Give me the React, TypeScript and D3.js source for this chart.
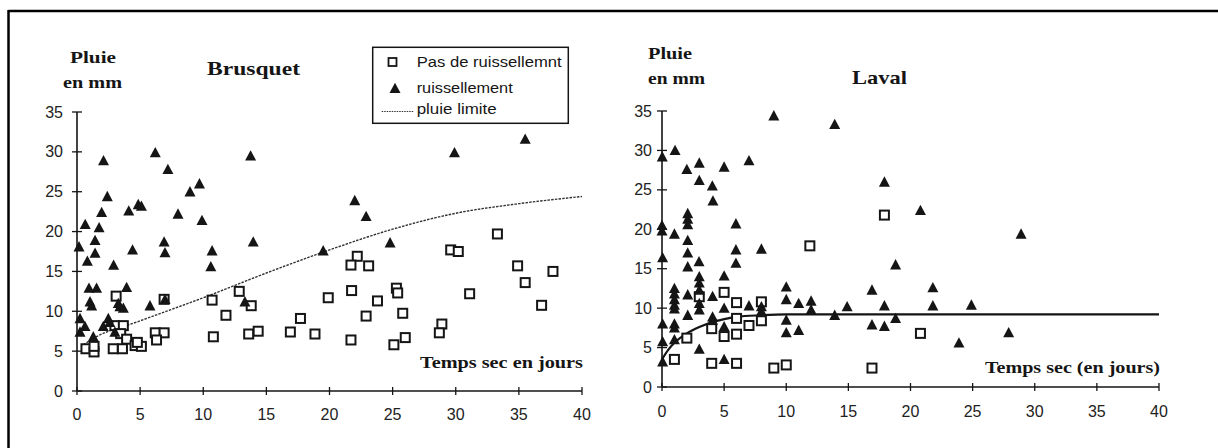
import React from "react";
import * as d3 from "d3";

// ---------- DATA ----------
const xTicks = [0, 5, 10, 15, 20, 25, 30, 35, 40];
const yTicks = [0, 5, 10, 15, 20, 25, 30, 35];

const legendLabels = ["Pas de ruissellemnt", "ruissellement", "pluie limite"];

// Brusquet
const bruRunoff: [number, number][] = [
  [2.1, 28.9], [2.4, 24.4], [1.95, 22.4], [0.65, 20.9], [1.75, 20.5], [4.1, 22.6], [4.85, 23.4], [5.1, 23.2],
  [6.2, 29.9], [7.2, 27.8], [8.95, 25.0], [9.7, 26.0], [8.0, 22.2], [9.9, 21.4], [13.75, 29.5], [22.0, 23.9],
  [22.9, 21.9], [29.9, 29.9], [35.5, 31.6], [19.5, 17.6], [24.8, 18.6],
  [0.16, 18.1], [1.43, 18.9], [0.82, 16.3], [1.43, 17.3], [4.4, 17.7], [2.9, 15.8], [6.9, 18.7], [6.97, 17.35],
  [10.7, 17.6], [10.6, 15.6], [13.96, 18.7],
  [0.95, 12.9], [1.55, 12.9], [1.03, 11.2], [1.16, 10.7], [3.93, 13.0], [3.27, 11.0], [3.67, 10.4], [3.4, 10.6],
  [5.78, 10.7], [6.97, 11.5], [0.24, 9.1], [0.24, 7.4], [0.63, 8.1], [1.29, 6.8], [2.08, 8.1], [2.48, 9.1],
  [2.6, 8.6], [3.0, 7.4], [13.3, 11.2],
];
const bruNoRunoff: [number, number][] = [
  [3.1, 11.9], [3.0, 8.2], [3.67, 8.2], [3.46, 7.2], [3.93, 6.5], [0.71, 5.3], [1.35, 4.9], [1.35, 5.6],
  [2.87, 5.3], [3.6, 5.3], [4.6, 5.7], [5.1, 5.6], [4.78, 6.1], [6.2, 7.3], [6.9, 7.3], [6.3, 6.4], [6.9, 11.5],
  [10.7, 11.4], [10.8, 6.8], [11.8, 9.5], [12.85, 12.5], [13.8, 10.7], [13.6, 7.15], [14.35, 7.5], [16.9, 7.4],
  [17.7, 9.1], [18.85, 7.15], [22.2, 16.9], [21.7, 15.8], [23.1, 15.7], [19.9, 11.7], [21.75, 12.6], [23.8, 11.3],
  [25.3, 12.9], [25.4, 12.3], [22.9, 9.4], [25.8, 9.75], [21.7, 6.4], [25.1, 5.8], [26.0, 6.7], [28.9, 8.4],
  [28.7, 7.3], [29.6, 17.7], [30.2, 17.5], [31.1, 12.2], [33.3, 19.7], [34.9, 15.7], [35.5, 13.6], [37.7, 15.0],
  [36.8, 10.75],
];
const bruLimit: [number, number][] = [
  [0.5, 5.8], [1.3, 6.6], [5, 8.8], [10, 11.7], [15, 14.8], [20, 17.7], [25, 20.3], [30, 22.3], [35, 23.5], [40, 24.4],
];

// Laval
const lavRunoff: [number, number][] = [
  [9.0, 34.4], [13.9, 33.3], [1.05, 30.0], [0.02, 29.2], [2.0, 27.6], [3.0, 28.4], [3.0, 26.2], [5.0, 27.9],
  [7.0, 28.7], [4.05, 25.5], [4.1, 23.6], [2.07, 22.0], [2.07, 21.3], [2.07, 20.6], [0, 20.5], [0, 19.8],
  [1.0, 19.4], [5.95, 20.7], [17.9, 26.0], [20.8, 22.4], [28.9, 19.4], [21.8, 12.6], [21.8, 10.3], [24.9, 10.4],
  [23.9, 5.6], [27.9, 6.9],
  [2.07, 18.6], [2.07, 17.0], [2.07, 15.25], [2.98, 15.9], [0.05, 16.4], [5.95, 17.4], [5.95, 15.7], [8.0, 17.5],
  [5.0, 14.1],
  [3.0, 14.0], [3.0, 13.2], [3.0, 12.3], [3.0, 10.6], [3.0, 9.8],
  [1.0, 12.5], [1.0, 11.8], [1.0, 11.1], [1.0, 10.4], [1.0, 9.9],
  [2.07, 11.7], [2.07, 9.1], [4.07, 11.5], [4.07, 8.9], [4.07, 8.5], [5.0, 10.0], [5.0, 7.65], [5.0, 3.5],
  [1.0, 8.0], [1.0, 7.5], [0.05, 8.0], [0.05, 5.75], [0.05, 3.2], [1.0, 6.0], [3.0, 4.8], [7.0, 10.3],
  [8.0, 10.2], [8.0, 9.6], [10.0, 12.7], [10.0, 11.1], [10.0, 8.5], [10.0, 6.9], [11.0, 10.6], [11.0, 7.2],
  [12.0, 10.9], [12.0, 9.8], [13.9, 9.1], [14.9, 10.2], [16.9, 12.3], [16.9, 7.9], [17.9, 10.3], [17.9, 7.7],
  [18.8, 15.5], [18.8, 8.7],
];
const lavNoRunoff: [number, number][] = [
  [1.0, 3.5], [2.0, 6.2], [3.0, 11.45], [4.0, 7.4], [4.0, 3.0], [5.0, 12.0], [5.0, 6.4], [6.0, 10.7], [6.0, 8.7],
  [6.0, 6.7], [6.0, 3.0], [7.0, 7.8], [8.0, 10.8], [8.0, 8.4], [9.0, 2.4], [10.0, 2.8], [11.9, 17.9], [16.9, 2.4],
  [17.9, 21.8], [20.8, 6.8],
];
const lavLimit: [number, number][] = [
  [0, 3.5], [0.5, 4.7], [1, 5.6], [2, 6.8], [3, 7.6], [4, 8.2], [5, 8.6], [6, 8.9], [8, 9.1], [10, 9.2], [40, 9.2],
];

// ---------- DRAWING ----------
const INK = "#151515";
const SERIF = "'Liberation Serif', 'DejaVu Serif', serif";
const SANS = "'Liberation Sans', Arial, sans-serif";

type Panel = {
  xr: [number, number];
  yr: [number, number];
  squares: [number, number][];
  triangles: [number, number][];
  limit: [number, number][];
  dashed: boolean;
  labelXBase: number;
  yLabelEnd: number;
};

function tri(cx: number, cy: number, s: number) {
  const h = s * 0.85;
  return `M${cx},${cy - h / 2 - 1}L${cx + s / 2},${cy + h / 2}L${cx - s / 2},${cy + h / 2}Z`;
}

function PanelView({ p }: { p: Panel }) {
  const x = d3.scaleLinear().domain([0, 40]).range(p.xr);
  const y = d3.scaleLinear().domain([0, 35]).range(p.yr);
  const line = d3
    .line<[number, number]>()
    .x((d) => x(d[0]))
    .y((d) => y(d[1]))
    .curve(d3.curveMonotoneX);
  return (
    <g>
      {/* axes */}
      <line x1={x(0)} x2={x(40)} y1={y(0)} y2={y(0)} stroke={INK} strokeWidth={1.6} />
      <line x1={x(0)} x2={x(0)} y1={y(0)} y2={y(35)} stroke={INK} strokeWidth={1.6} />
      {xTicks.map((t) => (
        <g key={"x" + t}>
          <line x1={x(t)} x2={x(t)} y1={y(0) - 4} y2={y(0) + 4} stroke={INK} strokeWidth={1.3} />
          <text x={x(t)} y={p.labelXBase} textAnchor="middle" fontFamily={SANS} fontSize={16} fill="#222">
            {t}
          </text>
        </g>
      ))}
      {yTicks.map((t) => (
        <g key={"y" + t}>
          <line x1={x(0) - 5} x2={x(0) + 5} y1={y(t)} y2={y(t)} stroke={INK} strokeWidth={1.3} />
          <text x={p.yLabelEnd} y={y(t) + 5.5} textAnchor="end" fontFamily={SANS} fontSize={16} fill="#222">
            {t}
          </text>
        </g>
      ))}
      {/* limit curve */}
      <path
        d={line(p.limit) || ""}
        fill="none"
        stroke={p.dashed ? "#333" : INK}
        strokeWidth={p.dashed ? 1.4 : 2.2}
        strokeDasharray={p.dashed ? "2.5,1.2" : undefined}
      />
      {/* markers */}
      {p.squares.map((d, i) => (
        <rect key={"s" + i} x={x(d[0]) - 4.5} y={y(d[1]) - 4.5} width={9} height={9} fill="white" stroke={INK} strokeWidth={2} />
      ))}
      {p.triangles.map((d, i) => (
        <path key={"t" + i} d={tri(x(d[0]), y(d[1]), 11)} fill={INK} />
      ))}
    </g>
  );
}

const left: Panel = {
  xr: [77, 582],
  yr: [391, 112],
  squares: bruNoRunoff,
  triangles: bruRunoff,
  limit: bruLimit,
  dashed: true,
  labelXBase: 420,
  yLabelEnd: 63,
};
const right: Panel = {
  xr: [662, 1159],
  yr: [387, 111],
  squares: lavNoRunoff,
  triangles: lavRunoff,
  limit: lavLimit,
  dashed: false,
  labelXBase: 417,
  yLabelEnd: 652,
};

function BoldText(props: { x: number; y: number; len: number; size: number; children: string }) {
  return (
    <text
      x={props.x}
      y={props.y}
      fontFamily={SERIF}
      fontWeight="bold"
      fontSize={props.size}
      fill={INK}
      textLength={props.len}
      lengthAdjust="spacingAndGlyphs"
    >
      {props.children}
    </text>
  );
}

export default function App() {
  return (
    <div style={{ position: "absolute", left: 0, top: 0 }}>
      <svg width={1218} height={448} style={{ display: "block", background: "white" }}>
        {/* page frame */}
        <line x1={8.5} x2={1218} y1={11} y2={11} stroke="#000" strokeWidth={2.5} />
        <line x1={8.5} x2={8.5} y1={10} y2={448} stroke="#000" strokeWidth={2.5} />

        <PanelView p={left} />
        <PanelView p={right} />

        {/* left titles */}
        <BoldText x={70} y={63} len={46} size={16}>Pluie</BoldText>
        <BoldText x={63} y={88} len={59} size={16}>en mm</BoldText>
        <BoldText x={207} y={74.5} len={93} size={19}>Brusquet</BoldText>
        <BoldText x={420} y={368} len={163} size={16}>Temps sec en jours</BoldText>

        {/* right titles */}
        <BoldText x={648} y={58.5} len={44} size={16}>Pluie</BoldText>
        <BoldText x={648} y={83.5} len={57} size={16}>en mm</BoldText>
        <BoldText x={852} y={83.5} len={55} size={19}>Laval</BoldText>
        <BoldText x={985} y={373} len={175} size={16}>Temps sec (en jours)</BoldText>

        {/* legend */}
        <rect x={372.7} y={47.3} width={195.6} height={76} fill="white" stroke={INK} strokeWidth={1.5} />
        <rect x={388.5} y={58} width={8} height={8} fill="white" stroke={INK} strokeWidth={1.8} />
        <path d={tri(395, 88.3, 11)} fill={INK} />
        <line x1={381.7} x2={413.3} y1={111.5} y2={111.5} stroke="#333" strokeWidth={1.2} strokeDasharray="1.5,1" />
        {legendLabels.map((l, i) => (
          <text
            key={l}
            x={416.7}
            y={[66.5, 92.5, 114][i]}
            fontFamily={SANS}
            fontSize={14}
            fill={INK}
            textLength={[145, 96, 80][i]}
            lengthAdjust="spacingAndGlyphs"
          >
            {l}
          </text>
        ))}
      </svg>
    </div>
  );
}
